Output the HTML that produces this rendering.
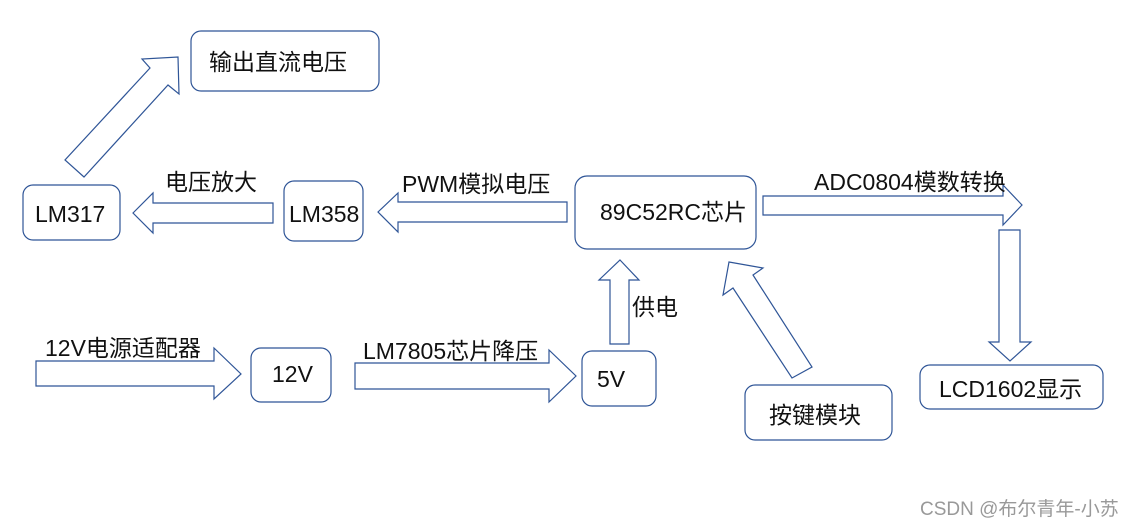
<!DOCTYPE html>
<html><head><meta charset="utf-8"><style>
body{margin:0;background:#fff}
svg{display:block}
text{font-family:"Liberation Sans","Noto Sans CJK SC",sans-serif;fill:#111;font-size:23px}
rect{fill:#fff;stroke:#2f5597;stroke-width:1.2}
polygon{fill:#fff;stroke:#2f5597;stroke-width:1.2}
</style></head><body>
<svg width="1134" height="527" viewBox="0 0 1134 527">
<rect x="191" y="31" width="188" height="60" rx="10"/>
<rect x="23" y="185" width="97" height="55" rx="10"/>
<rect x="284" y="181" width="79" height="60" rx="10"/>
<rect x="575" y="176" width="181" height="73" rx="12"/>
<rect x="251" y="348" width="80" height="54" rx="10"/>
<rect x="582" y="351" width="74" height="55" rx="10"/>
<rect x="745" y="385" width="147" height="55" rx="10"/>
<rect x="920" y="365" width="183" height="44" rx="10"/>

<polygon points="133,213 153,193 153,203 273,203 273,223 153,223 153,233"/>
<polygon points="378,212 398,193 398,202 567,202 567,222 398,222 398,232"/>
<polygon points="763,196 1003,196 1003,185 1022,205 1003,225 1003,215 763,215"/>
<polygon points="999,230 1020,230 1020,342 1031,342 1010,361 989,342 999,342"/>
<polygon points="620,260 639,280 629,280 629,344 610,344 610,280 599,280"/>
<polygon points="729,262 763,268 753,275 812,367 792,378 733,288 723,295"/>
<polygon points="178,57 179,94 168,85 84,177 65,160 150,68 142,59"/>
<polygon points="36,361 214,361 214,348 241,374 214,399 214,386 36,386"/>
<polygon points="355,363 549,363 549,350 576,376 549,402 549,389 355,389"/>

<text x="209" y="70">输出直流电压</text>
<text x="35" y="222">LM317</text>
<text x="165" y="190">电压放大</text>
<text x="289" y="222">LM358</text>
<text x="402" y="192">PWM模拟电压</text>
<text x="600" y="220">89C52RC芯片</text>
<text x="814" y="190">ADC0804模数转换</text>
<text x="632" y="315">供电</text>
<text x="45" y="356">12V电源适配器</text>
<text x="363" y="359">LM7805芯片降压</text>
<text x="272" y="382">12V</text>
<text x="597" y="387">5V</text>
<text x="769" y="423">按键模块</text>
<text x="939" y="397">LCD1602显示</text>
<text x="920" y="515" style="font-size:19px;fill:#999">CSDN @布尔青年-小苏</text>
</svg>
</body></html>
